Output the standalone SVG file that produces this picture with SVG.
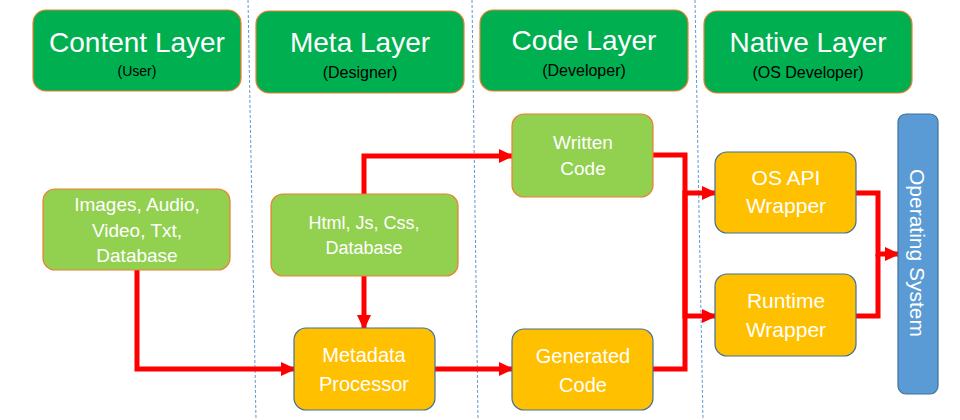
<svg xmlns="http://www.w3.org/2000/svg" width="960" height="420" viewBox="0 0 960 420">
<style>
text{font-family:"Liberation Sans",Arial,sans-serif;text-anchor:middle}
.hdr{fill:#00B050;stroke:#ED7D31;stroke-width:1.2}
.lg{fill:#92D050;stroke:#ED7D31;stroke-width:1.2}
.yl{fill:#FFC000;stroke:#41719C;stroke-width:1.2}
.os{fill:#5B9BD5;stroke:#41719C;stroke-width:1.2}
.t1{fill:#fff;font-size:28px}
.t2{fill:#000;font-size:16px}
.w{fill:#fff}
.div{stroke:#5B9BD5;stroke-width:1;stroke-dasharray:3,2;fill:none}
.c{stroke:#FF0000;stroke-width:5;fill:none;marker-end:url(#ah)}
.cn{stroke:#FF0000;stroke-width:5;fill:none}
</style>
<defs>
<marker id="ah" markerUnits="userSpaceOnUse" markerWidth="15" markerHeight="14" refX="13" refY="7" orient="auto">
<path d="M0,0 L15,7 L0,14 z" fill="#FF0000"/>
</marker>
</defs>
<rect width="960" height="420" fill="#fff"/>
<g id="dividers">
<line class="div" x1="248" y1="0" x2="256" y2="420"/>
<line class="div" x1="472" y1="0" x2="478" y2="420"/>
<line class="div" x1="695" y1="0" x2="703" y2="420"/>
</g>
<g id="content-layer">
<rect class="hdr" x="33" y="10" width="208" height="81" rx="13"/>
<text class="t1" x="137" y="52">Content Layer</text>
<text class="t2" x="137" y="76" style="font-size:14px">(User)</text>
</g>
<g id="meta-layer">
<rect class="hdr" x="256" y="11" width="208" height="82" rx="13"/>
<text class="t1" x="360" y="52">Meta Layer</text>
<text class="t2" x="360" y="78">(Designer)</text>
</g>
<g id="code-layer">
<rect class="hdr" x="480" y="10" width="208" height="81" rx="13"/>
<text class="t1" x="584" y="50">Code Layer</text>
<text class="t2" x="584" y="76">(Developer)</text>
</g>
<g id="native-layer">
<rect class="hdr" x="704" y="11" width="208" height="82" rx="13"/>
<text class="t1" x="808" y="52">Native Layer</text>
<text class="t2" x="808" y="78">(OS Developer)</text>
</g>
<g id="connectors">
<path class="c" d="M137,270 V369 H294"/>
<path class="c" d="M364,194 V156 H512"/>
<path class="c" d="M364,276 V328"/>
<path class="c" d="M435,369 H512"/>
<path class="c" d="M653,155 H685 V316 H715"/>
<path class="c" d="M653,369 H685 V193 H715"/>
<path class="cn" d="M856,316 H878 V254"/>
<path class="c" d="M856,193 H878 V254 H898"/>
</g>
<g id="images">
<rect class="lg" x="43" y="189" width="187" height="81" rx="12"/>
<text class="w" x="137" y="211" font-size="19">Images, Audio,</text>
<text class="w" x="137" y="237" font-size="19">Video, Txt,</text>
<text class="w" x="137" y="262" font-size="19">Database</text>
</g>
<g id="html">
<rect class="lg" x="271" y="194" width="187" height="82" rx="12"/>
<text class="w" x="364" y="229" font-size="18">Html, Js, Css,</text>
<text class="w" x="364" y="254" font-size="18">Database</text>
</g>
<g id="metadata-processor">
<rect class="yl" x="294" y="328" width="141" height="82" rx="12"/>
<text class="w" x="364" y="362" font-size="20">Metadata</text>
<text class="w" x="364" y="391" font-size="20">Processor</text>
</g>
<g id="written-code">
<rect class="lg" x="512" y="114" width="141" height="83" rx="12"/>
<text class="w" x="583" y="149" font-size="19">Written</text>
<text class="w" x="583" y="175" font-size="19">Code</text>
</g>
<g id="generated-code">
<rect class="yl" x="512" y="329" width="141" height="81" rx="12"/>
<text class="w" x="583" y="363" font-size="20">Generated</text>
<text class="w" x="583" y="392" font-size="20">Code</text>
</g>
<g id="os-api-wrapper">
<rect class="yl" x="715" y="152" width="141" height="81" rx="12"/>
<text class="w" x="786" y="185" font-size="21">OS API</text>
<text class="w" x="786" y="213" font-size="21">Wrapper</text>
</g>
<g id="runtime-wrapper">
<rect class="yl" x="715" y="274" width="141" height="82" rx="12"/>
<text class="w" x="786" y="308" font-size="21">Runtime</text>
<text class="w" x="786" y="337" font-size="21">Wrapper</text>
</g>
<g id="operating-system">
<rect class="os" x="898" y="114" width="40" height="280" rx="8"/>
<text class="w" font-size="21" transform="translate(917,253) rotate(90)" dominant-baseline="central">Operating System</text>
</g>
</svg>
